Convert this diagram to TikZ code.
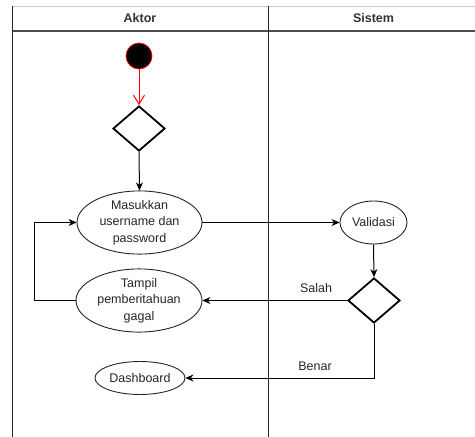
\documentclass[tikz,border=0pt]{standalone}
\usepackage{fontspec}
\setmainfont{Liberation Sans}
\usetikzlibrary{shapes.geometric,arrows.meta}
\begin{document}
\begin{tikzpicture}[x=1pt,y=-1pt,
  font=\fontsize{12.5}{16.5}\selectfont,
  lane/.style={draw=black!85,line width=1pt},
  act/.style={ellipse,draw=black!85,line width=0.9pt,inner sep=0pt,align=center,text=black!85},
  dec/.style={diamond,draw=black,line width=1.8pt,inner sep=0pt,minimum width=52pt,minimum height=45pt},
  flow/.style={draw=black,line width=1pt,-{Stealth[length=8pt,width=7pt,inset=2.5pt]}},
  lbl/.style={text=black!85,inner sep=0pt}]
\useasboundingbox (0,0) rectangle (475,437);
\fill[white] (0,0) rectangle (475,437);
% swimlanes
\draw[draw=black!20,line width=1pt] (12.7,6) -- (475,6);
\draw[draw=black!70,line width=1.4pt] (12.7,31) -- (475,31);
\draw[lane] (12.7,6) -- (12.7,437);
\draw[lane] (268,6) -- (268,437);
\node[font=\fontsize{12.5}{15}\selectfont\bfseries,text=black!80] (hA) at (140,18.5) {Aktor};
\node[font=\fontsize{12.5}{15}\selectfont\bfseries,text=black!80] (hS) at (373.5,18.5) {Sistem};
% nodes
\node[circle,fill=black,draw=red,line width=0.8pt,minimum size=26pt,inner sep=0pt] (start) at (139,56) {};
\node[dec] (d1) at (139,128.5) {};
\node[act,minimum width=125pt,minimum height=57pt] (mas) at (139.5,222.5) {Masukkan\\username dan\\password};
\node[act,minimum width=67pt,minimum height=43pt] (val) at (373.5,222.5) {Validasi};
\node[dec] (d2) at (374,300.5) {};
\node[act,minimum width=126pt,minimum height=55pt] (tam) at (139,300.5) {Tampil\\pemberitahuan\\gagal};
\node[act,minimum width=90pt,minimum height=33pt] (dash) at (140,378) {Dashboard};
\node[lbl] (salah) at (316,288.5) {Salah};
\node[lbl] (benar) at (315,366) {Benar};
% connectors
\draw[draw=red,line width=1pt,-{Straight Barb[length=9pt,width=11pt]}] (start) -- (d1.north);
\draw[flow] (d1.south) -- (mas.north);
\draw[flow] (mas.east) -- (val.west);
\draw[flow] (val.south) -- (d2.north);
\draw[flow] (d2.west) -- (tam.east);
\draw[flow] (tam.west) -- ++(-41.5,0) |- (mas.west);
\draw[flow] (d2.south) |- (dash.east);
\end{tikzpicture}
\end{document}
